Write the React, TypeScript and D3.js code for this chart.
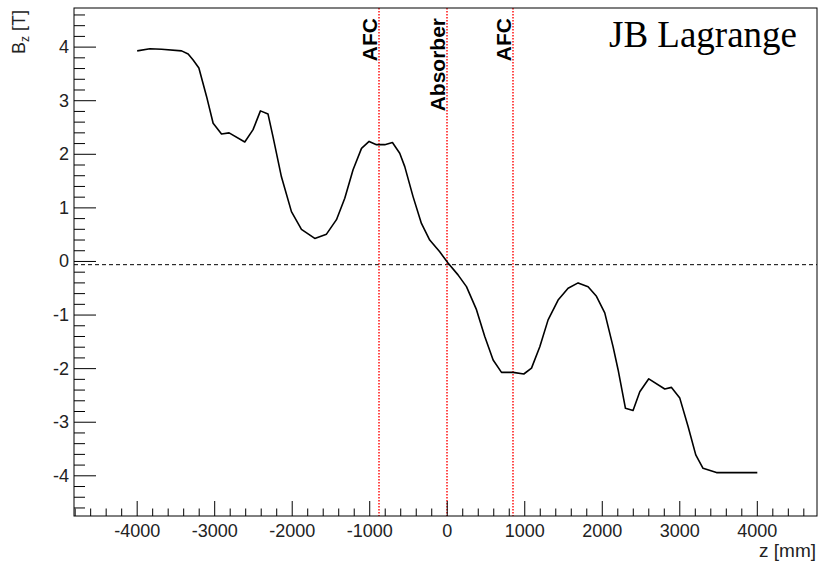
import React from 'react';
import * as d3 from 'd3';

// field map along the axis (z in mm, Bz in T)
const zPos = [
  -4000, -3836, -3685, -3427, -3342, -3278, -3204, -3105, -3020, -2912,
  -2814, -2612, -2505, -2410, -2312, -2248, -2139, -2010, -1881, -1709,
  -1558, -1429, -1322, -1215, -1106, -1008, -913, -806, -707, -613,
  -548, -441, -333, -226, -97, 10, 139, 248, 377, 484,
  592, 700, 850, 988, 1087, 1194, 1301, 1430, 1559, 1688,
  1817, 1925, 2032, 2139, 2204, 2299, 2397, 2484, 2600, 2806,
  2893, 3000, 3107, 3206, 3300, 3473, 4000,
];
const bz = [
  3.93, 3.97, 3.96, 3.93, 3.87, 3.76, 3.61, 3.08, 2.58, 2.38,
  2.4, 2.23, 2.46, 2.81, 2.75, 2.33, 1.58, 0.93, 0.6, 0.43,
  0.51, 0.78, 1.18, 1.71, 2.11, 2.24, 2.18, 2.18, 2.22, 2.02,
  1.77, 1.21, 0.71, 0.4, 0.18, -0.03, -0.25, -0.47, -0.9, -1.4,
  -1.84, -2.07, -2.07, -2.1, -1.99, -1.59, -1.09, -0.72, -0.5, -0.4,
  -0.47, -0.65, -0.96, -1.59, -2.02, -2.74, -2.78, -2.43, -2.19, -2.38,
  -2.35, -2.55, -3.08, -3.61, -3.86, -3.94, -3.94,
];

// element positions (mm) and their labels
const markerZ = [-875, 0, 852];
const markerLabels = ['AFC', 'Absorber', 'AFC'];

const xTicks = [-4000, -3000, -2000, -1000, 0, 1000, 2000, 3000, 4000];
const yTicks = [-4, -3, -2, -1, 0, 1, 2, 3, 4];

const W = 819;
const H = 563;
const FONT = 'Liberation Sans, Arial, Helvetica, sans-serif';

export default function App() {
  const x = d3.scaleLinear().domain([-4815, 4770]).range([74, 817]);
  const y = d3.scaleLinear().domain([-4.75, 4.73]).range([516, 8]);
  const [x0, x1] = x.range();
  const [y0, y1] = y.range();

  const pts = zPos.map((z, i) => [z, bz[i]] as [number, number]);
  const line = d3
    .line<[number, number]>()
    .x(d => x(d[0]))
    .y(d => y(d[1]));

  // minor ticks every 200 mm / 0.2 T
  const xMinor = d3.range(-4800, 4770, 200).filter(v => v % 1000 !== 0);
  const yMinor = d3.range(-46, 48, 2).map(v => v / 10).filter(v => Math.abs(v % 1) > 1e-6);

  return (
    <svg
      width={W}
      height={H}
      style={{ position: 'absolute', left: 0, top: 0, background: '#fff' }}
    >
      <rect x={0} y={0} width={W} height={H} fill="#fff" />

      {/* zero line */}
      <line
        x1={x0}
        x2={x1}
        y1={y(-0.06)}
        y2={y(-0.06)}
        stroke="#000"
        strokeWidth={1}
        strokeDasharray="4,3"
      />

      {/* element markers */}
      {markerZ.map((z, i) => {
        const px = Math.round(x(z));
        return (
          <g key={i}>
            <line
              x1={px}
              x2={px}
              y1={y1}
              y2={y0}
              stroke="#ff2020"
              strokeWidth={1.6}
              strokeDasharray="1.5,1.5"
            />
            <text
              transform={`translate(${px - 2.5},${y1 + 10}) rotate(-90)`}
              textAnchor="end"
              fontFamily={FONT}
              fontWeight="bold"
              fontSize={21}
              fill="#000"
            >
              {markerLabels[i]}
            </text>
          </g>
        );
      })}

      <path d={line(pts) ?? ''} fill="none" stroke="#000" strokeWidth={1.6} strokeLinejoin="round" />

      {/* frame */}
      <rect x={x0} y={y1} width={x1 - x0} height={y0 - y1} fill="none" stroke="#000" strokeWidth={1} />

      {/* x axis */}
      {xTicks.map(t => (
        <g key={t}>
          <line x1={x(t)} x2={x(t)} y1={y0} y2={y0 - 15} stroke="#000" />
          <text x={x(t)} y={y0 + 21} textAnchor="middle" fontFamily={FONT} fontSize={18} fill="#222">
            {t}
          </text>
        </g>
      ))}
      {xMinor.map(t => (
        <line key={t} x1={x(t)} x2={x(t)} y1={y0} y2={y0 - 7.5} stroke="#000" />
      ))}

      {/* y axis */}
      {yTicks.map(t => (
        <g key={t}>
          <line x1={x0} x2={x0 + 22} y1={y(t)} y2={y(t)} stroke="#000" />
          <text x={x0 - 5} y={y(t) + 6} textAnchor="end" fontFamily={FONT} fontSize={18} fill="#222">
            {t}
          </text>
        </g>
      ))}
      {yMinor.map(t => (
        <line key={t} x1={x0} x2={x0 + 11} y1={y(t)} y2={y(t)} stroke="#000" />
      ))}

      {/* axis titles */}
      <text
        transform={`translate(25,10) rotate(-90)`}
        textAnchor="end"
        fontFamily={FONT}
        fontSize={18}
        fill="#222"
      >
        B<tspan fontSize={12} dy={4}>z</tspan>
        <tspan dy={-4}> [T]</tspan>
      </text>
      <text x={816} y={557} textAnchor="end" fontFamily={FONT} fontSize={19} fill="#222">
        z [mm]
      </text>

      <text x={609} y={47} fontFamily="Liberation Serif, Times New Roman, serif" fontSize={37} fill="#000">
        JB Lagrange
      </text>
    </svg>
  );
}
